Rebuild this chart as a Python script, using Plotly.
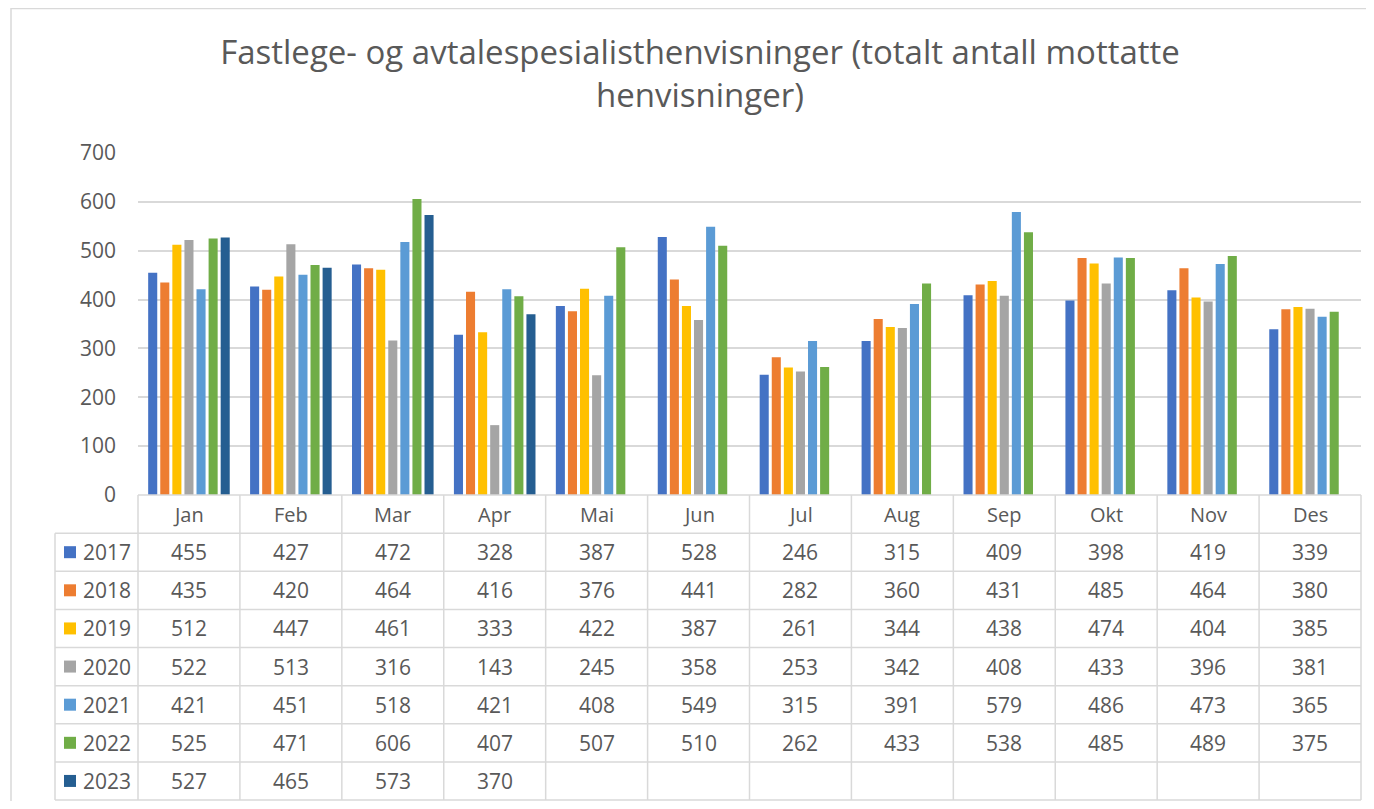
import plotly.graph_objects as go

months = ["Jan", "Feb", "Mar", "Apr", "Mai", "Jun", "Jul", "Aug", "Sep", "Okt", "Nov", "Des"]
years = ["2017", "2018", "2019", "2020", "2021", "2022", "2023"]
v2017 = [455, 427, 472, 328, 387, 528, 246, 315, 409, 398, 419, 339]
v2018 = [435, 420, 464, 416, 376, 441, 282, 360, 431, 485, 464, 380]
v2019 = [512, 447, 461, 333, 422, 387, 261, 344, 438, 474, 404, 385]
v2020 = [522, 513, 316, 143, 245, 358, 253, 342, 408, 433, 396, 381]
v2021 = [421, 451, 518, 421, 408, 549, 315, 391, 579, 486, 473, 365]
v2022 = [525, 471, 606, 407, 507, 510, 262, 433, 538, 485, 489, 375]
v2023 = [527, 465, 573, 370, None, None, None, None, None, None, None, None]
series = [v2017, v2018, v2019, v2020, v2021, v2022, v2023]
colors = ["#4472C4", "#ED7D31", "#FFC000", "#A5A5A5", "#5B9BD5", "#70AD47", "#255E91"]
y_ticks = [0, 100, 200, 300, 400, 500, 600, 700]
title = "Fastlege- og avtalespesialisthenvisninger (totalt antall mottatte<br>henvisninger)"

# page has an 8px body margin, so the figure is 16px smaller than the window
OFF = 8
W, H = 1374 - 2 * OFF, 809 - 2 * OFF
PL, PR, PT, AX, TB, TL = 138 - OFF, 1361 - OFF, 153 - OFF, 495 - OFF, 800 - OFF, 55 - OFF
GREY = "#595959"
LINE = "#D9D9D9"
FONT = "Open Sans"


def px(x):
    return (x - PL) / (PR - PL)


def py(y):
    return (TB - y) / (TB - PT)


fig = go.Figure()
for yr, vals, col in zip(years, series, colors):
    fig.add_trace(go.Bar(x=months, y=vals, name=yr, marker_color=col,
                         marker_line_width=0))

nrows = len(years) + 1
row_h = (TB - AX) / nrows
col_w = (PR - PL) / len(months)

shapes = []
ann = []
lw = 1.5
# outer chart border
shapes.append(dict(type="rect", xref="paper", yref="paper", x0=px(10 - OFF + 1), x1=px(W + 20),
                   y0=py(0.5), y1=py(H + 20), line=dict(color=LINE, width=1.5),
                   fillcolor="rgba(0,0,0,0)", layer="below"))
# table horizontal lines
shapes.append(dict(type="line", xref="paper", yref="paper", x0=px(PL), x1=px(PR),
                   y0=py(AX), y1=py(AX), line=dict(color=LINE, width=lw)))
for k in range(1, nrows + 1):
    yy = AX + k * row_h
    shapes.append(dict(type="line", xref="paper", yref="paper", x0=px(TL), x1=px(PR),
                       y0=py(yy), y1=py(yy), line=dict(color=LINE, width=lw)))
# vertical lines
for j in range(len(months) + 1):
    xx = PL + j * col_w
    shapes.append(dict(type="line", xref="paper", yref="paper", x0=px(xx), x1=px(xx),
                       y0=py(AX), y1=py(TB), line=dict(color=LINE, width=lw)))
shapes.append(dict(type="line", xref="paper", yref="paper", x0=px(TL), x1=px(TL),
                   y0=py(AX + row_h), y1=py(TB), line=dict(color=LINE, width=lw)))

# header
for m in months:
    ann.append(dict(x=m, xref="x", y=py(AX + row_h / 2), yref="paper", text=m,
                    xanchor="center", yanchor="middle", showarrow=False,
                    font=dict(family=FONT, size=20, color=GREY)))
# rows
for i, (yr, vals, col) in enumerate(zip(years, series, colors)):
    cy = AX + (i + 1.5) * row_h
    shapes.append(dict(type="rect", xref="paper", yref="paper", x0=px(64 - OFF), x1=px(76 - OFF),
                       y0=py(cy - 6), y1=py(cy + 6), fillcolor=col, line=dict(width=0)))
    ann.append(dict(x=px(81 - OFF), xref="paper", y=py(cy), yref="paper", text=yr,
                    xanchor="left", yanchor="middle", showarrow=False,
                    font=dict(family=FONT, size=21, color=GREY)))
    for m, v in zip(months, vals):
        if v is None:
            continue
        ann.append(dict(x=m, xref="x", y=py(cy), yref="paper", text=str(v),
                        xanchor="center", yanchor="middle", showarrow=False,
                        font=dict(family=FONT, size=21, color=GREY)))

fig.update_layout(
    width=W, height=H,
    margin=dict(l=PL, r=W - PR, t=PT, b=H - TB, autoexpand=False),
    paper_bgcolor="white", plot_bgcolor="white",
    barmode="group", bargap=0.17, bargroupgap=0.25,
    showlegend=False,
    title=dict(text=title, x=(700 - OFF) / W, xref="container", xanchor="center",
               y=1 - (64 - OFF) / H, yref="container", yanchor="middle",
               font=dict(family=FONT, size=33, color=GREY)),
    xaxis=dict(showticklabels=False, showgrid=False, zeroline=False, showline=False,
               ticks=""),
    yaxis=dict(domain=[py(AX), 1], range=[0, 700], tickvals=y_ticks,
               showgrid=True, gridcolor=LINE, gridwidth=1.5, zeroline=False,
               showline=False, ticks="", ticklabelstandoff=21,
               tickfont=dict(family=FONT, size=21, color=GREY)),
    shapes=shapes, annotations=ann,
)

fig.write_html("out.html")
